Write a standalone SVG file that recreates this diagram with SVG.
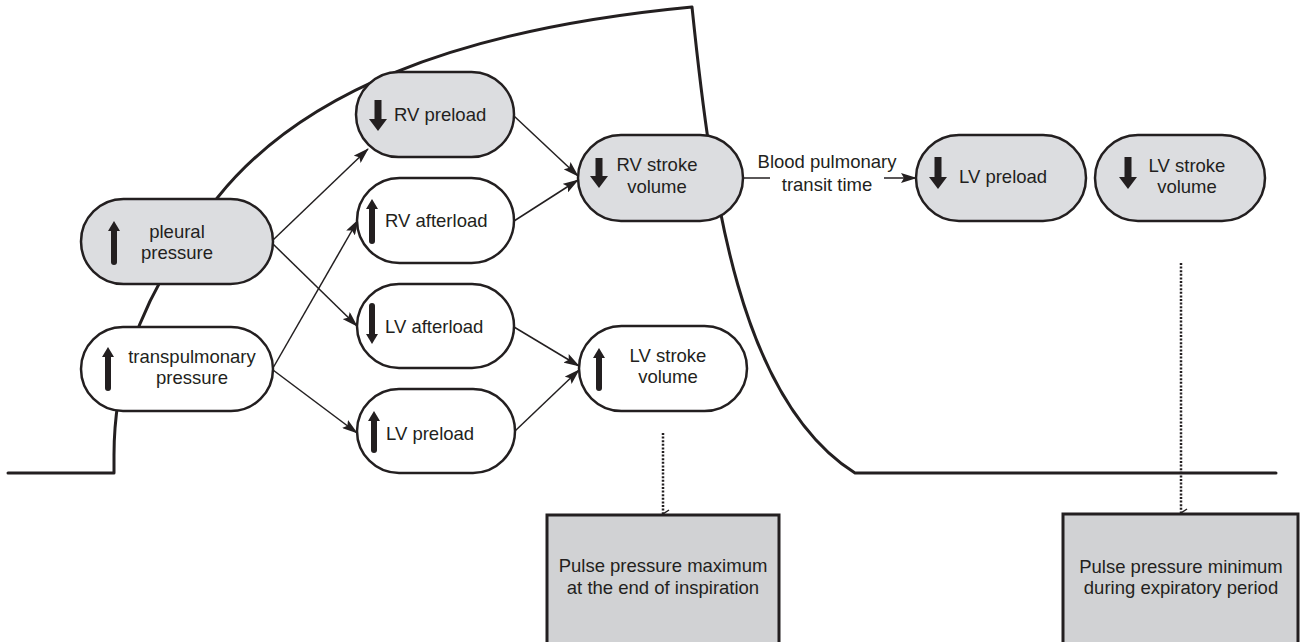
<svg xmlns="http://www.w3.org/2000/svg" width="1301" height="642" viewBox="0 0 1301 642">
<defs>
<marker id="ah" viewBox="0 0 16 10" refX="15" refY="5" markerWidth="16" markerHeight="10" markerUnits="userSpaceOnUse" orient="auto">
<path d="M0,0 L16,5 L0,10 L3,5 Z" fill="#231f20"/>
</marker>
<marker id="vh" viewBox="0 0 10 8" refX="5" refY="7" markerWidth="10" markerHeight="8" markerUnits="userSpaceOnUse" orient="auto-start-reverse">
<path d="M1,1 L5,7 L9,1" fill="none" stroke="#231f20" stroke-width="1.5"/>
</marker>
</defs>
<style>
.bg{fill:#ffffff}
.curve{fill:none;stroke:#231f20;stroke-width:3;stroke-linecap:round;stroke-linejoin:round}
.g{fill:#dcdde0;stroke:#231f20;stroke-width:2.5}
.w{fill:#ffffff;stroke:#231f20;stroke-width:2.5}
.box{fill:#d1d2d4;stroke:#231f20;stroke-width:3}
.t{font-family:"Liberation Sans",Arial,sans-serif;font-size:18.5px;fill:#231f20}
.c{text-anchor:middle}
.con{fill:none;stroke:#231f20;stroke-width:1.5}
.dot{fill:none;stroke:#231f20;stroke-width:2.5;stroke-dasharray:2 1.6}
.sh{fill:none;stroke:#231f20;stroke-width:6;stroke-linecap:round}
.hd{fill:#231f20}
</style>
<rect class="bg" x="0" y="0" width="1301" height="642"/>
<g id="pressure-curve">
<path class="curve" d="M8,473 L114,473 L114,455 C114,400 125,310 218,197 C300,95 450,30 692,7 C712,200 740,400 855,473 L1276,473"/>
</g>
<g id="connectors">
<line class="con" x1="273" y1="240" x2="368" y2="149" marker-end="url(#ah)"/>
<line class="con" x1="273" y1="244" x2="357" y2="326" marker-end="url(#ah)"/>
<line class="con" x1="273" y1="368" x2="358" y2="220" marker-end="url(#ah)"/>
<line class="con" x1="273" y1="370" x2="357" y2="433" marker-end="url(#ah)"/>
<line class="con" x1="514" y1="116" x2="578" y2="176" marker-end="url(#ah)"/>
<line class="con" x1="514" y1="221" x2="578" y2="180" marker-end="url(#ah)"/>
<line class="con" x1="514" y1="327" x2="579" y2="366" marker-end="url(#ah)"/>
<line class="con" x1="515" y1="431" x2="579" y2="370" marker-end="url(#ah)"/>
<line class="con" x1="743" y1="178" x2="770" y2="178"/>
<line class="con" x1="884" y1="178" x2="916" y2="178" marker-end="url(#ah)"/>
<line class="dot" x1="663" y1="433" x2="663" y2="514" marker-end="url(#vh)"/>
<line class="dot" x1="1181" y1="263" x2="1181" y2="513" marker-end="url(#vh)"/>
<text class="t c" x="827" y="168">Blood pulmonary</text>
<text class="t c" x="827" y="191">transit time</text>
</g>
<g id="pleural-pressure">
<rect class="g" x="81" y="199" width="192" height="85" rx="42.5"/>
<line class="sh" x1="114" y1="262" x2="114" y2="228"/>
<path class="hd" d="M108,231 L114,221 L120,231 Z"/>
<text class="t c" x="177" y="238">pleural</text>
<text class="t c" x="177" y="259">pressure</text>
</g>
<g id="transpulmonary-pressure">
<rect class="w" x="81" y="327" width="192" height="84" rx="42"/>
<line class="sh" x1="108" y1="388" x2="108" y2="354"/>
<path class="hd" d="M102,357 L108,347 L114,357 Z"/>
<text class="t c" x="192" y="363">transpulmonary</text>
<text class="t c" x="192" y="384">pressure</text>
</g>
<g id="rv-preload">
<rect class="g" x="356" y="72" width="158" height="85" rx="42.5"/>
<line class="sh" x1="378" y1="100" x2="378" y2="120" style="stroke-width:7;stroke-linecap:butt"/>
<path class="hd" d="M369,119 L387,119 L378,131 Z"/>
<text class="t" x="394" y="121">RV preload</text>
</g>
<g id="rv-afterload">
<rect class="w" x="357" y="178" width="157" height="85" rx="42.5"/>
<line class="sh" x1="372" y1="241" x2="372" y2="206"/>
<path class="hd" d="M366,209 L372,199 L378,209 Z"/>
<text class="t" x="385" y="227">RV afterload</text>
</g>
<g id="lv-afterload">
<rect class="w" x="357" y="284" width="157" height="84" rx="42"/>
<line class="sh" x1="372" y1="306" x2="372" y2="336"/>
<path class="hd" d="M366,334 L372,344 L378,334 Z"/>
<text class="t" x="385" y="333">LV afterload</text>
</g>
<g id="lv-preload">
<rect class="w" x="357" y="389" width="158" height="84" rx="42"/>
<line class="sh" x1="374" y1="450" x2="374" y2="418"/>
<path class="hd" d="M368,421 L374,411 L380,421 Z"/>
<text class="t" x="386" y="440">LV preload</text>
</g>
<g id="rv-stroke-volume">
<rect class="g" x="578" y="135" width="165" height="86" rx="43"/>
<line class="sh" x1="599" y1="158" x2="599" y2="177" style="stroke-width:7;stroke-linecap:butt"/>
<path class="hd" d="M590,176 L608,176 L599,188 Z"/>
<text class="t c" x="657" y="171">RV stroke</text>
<text class="t c" x="657" y="193">volume</text>
</g>
<g id="lv-stroke-volume-mid">
<rect class="w" x="579" y="326" width="168" height="85" rx="42.5"/>
<line class="sh" x1="599" y1="388" x2="599" y2="355"/>
<path class="hd" d="M593,358 L599,348 L605,358 Z"/>
<text class="t c" x="668" y="362">LV stroke</text>
<text class="t c" x="668" y="383">volume</text>
</g>
<g id="lv-preload-right">
<rect class="g" x="916" y="135" width="170" height="86" rx="43"/>
<line class="sh" x1="938" y1="157" x2="938" y2="178" style="stroke-width:7;stroke-linecap:butt"/>
<path class="hd" d="M929,177 L947,177 L938,189 Z"/>
<text class="t" x="959" y="183">LV preload</text>
</g>
<g id="lv-stroke-volume-right">
<rect class="g" x="1095" y="135" width="170" height="86" rx="43"/>
<line class="sh" x1="1128" y1="157" x2="1128" y2="178" style="stroke-width:7;stroke-linecap:butt"/>
<path class="hd" d="M1119,177 L1137,177 L1128,189 Z"/>
<text class="t c" x="1187" y="172">LV stroke</text>
<text class="t c" x="1187" y="193">volume</text>
</g>
<g id="pulse-max">
<rect class="box" x="547" y="515" width="232" height="135"/>
<text class="t c" x="663" y="572">Pulse pressure maximum</text>
<text class="t c" x="663" y="594">at the end of inspiration</text>
</g>
<g id="pulse-min">
<rect class="box" x="1063" y="514" width="235" height="136"/>
<text class="t c" x="1181" y="573">Pulse pressure minimum</text>
<text class="t c" x="1181" y="594">during expiratory period</text>
</g>
</svg>
